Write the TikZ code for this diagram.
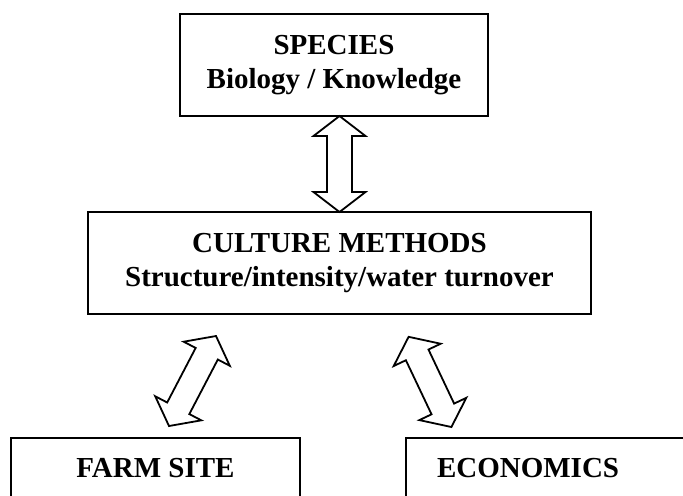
\documentclass[tikz,border=0pt]{standalone}
\usepackage{fontspec}
\setmainfont{Liberation Serif}
\usetikzlibrary{calc}

\newcommand{\twowayarrow}[2]{%
  \draw[blockarrow] (#1)
    -- ($(#1)!10pt!(#2) + (#1)!13pt!-90:(#2) - (#1)$)
    -- ($(#1)!10pt!(#2) + (#1)!6.25pt!-90:(#2) - (#1)$)
    -- ($(#2)!10pt!(#1) + (#2)!6.25pt!90:(#1) - (#2)$)
    -- ($(#2)!10pt!(#1) + (#2)!13pt!90:(#1) - (#2)$)
    -- (#2)
    -- ($(#2)!10pt!(#1) + (#2)!13pt!-90:(#1) - (#2)$)
    -- ($(#2)!10pt!(#1) + (#2)!6.25pt!-90:(#1) - (#2)$)
    -- ($(#1)!10pt!(#2) + (#1)!6.25pt!90:(#2) - (#1)$)
    -- ($(#1)!10pt!(#2) + (#1)!13pt!90:(#2) - (#1)$)
    -- cycle;}

\begin{document}
\begin{tikzpicture}[x=0.5pt,y=-0.5pt]
    \tikzstyle{box}=[draw,rectangle,line width=0.9pt,inner sep=0pt,outer sep=0pt,align=center,font=\fontsize{14.5}{17.25}\selectfont\bfseries]
    \tikzstyle{blockarrow}=[draw,line width=0.9pt,fill=white,line join=miter]

    \useasboundingbox (0,0) rectangle (683,495);
    \clip (0,0) rectangle (683,495);

    \node at (334,65) (species) [box,minimum width=154pt,minimum height=51pt] {SPECIES\\Biology / Knowledge};
    \node at (339.5,263) (culture) [box,minimum width=251.5pt,minimum height=51pt] {CULTURE METHODS\\Structure/intensity/water turnover};
    \node at (155.5,468) (farm) [box,minimum width=144.5pt,minimum height=30pt] {FARM SITE};
    \node at (406,438) (econ) [box,anchor=north west,text width=126pt,align=left,inner xsep=15.5pt,minimum height=30pt] {ECONOMICS};

    \coordinate (sp) at (species.south -| culture.north);
    \coordinate (cu) at (culture.north);
    \coordinate (cl) at (216,336);
    \coordinate (fs) at (169,426);
    \coordinate (cr) at (408.6,336.8);
    \coordinate (ec) at (451.4,427);

    \twowayarrow{sp}{cu}
    \twowayarrow{cl}{fs}
    \twowayarrow{cr}{ec}
\end{tikzpicture}
\end{document}
